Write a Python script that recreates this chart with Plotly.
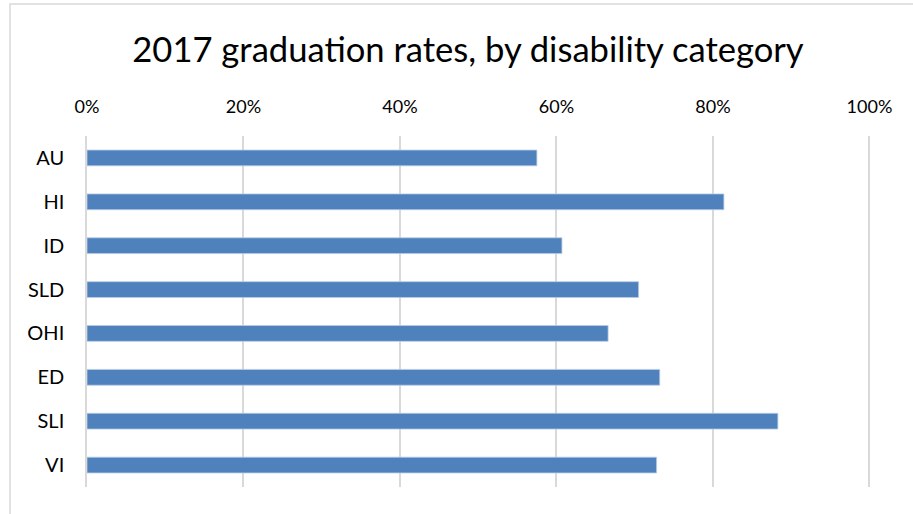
import plotly.graph_objects as go

categories = ["AU", "HI", "ID", "SLD", "OHI", "ED", "SLI", "VI"]
rates = [0.575, 0.814, 0.607, 0.705, 0.666, 0.732, 0.883, 0.728]
tick_vals = [0, 0.2, 0.4, 0.6, 0.8, 1.0]
tick_text = ["0%", "20%", "40%", "60%", "80%", "100%"]

FONT = "Lato"
GRID = "#d9d9d9"

fig = go.Figure(go.Bar(
    x=rates, y=categories, orientation="h",
    marker=dict(color="#4f81bd", line=dict(color="#b9cde5", width=0.8)),
    hoverinfo="x+y",
))

W, H = 913, 514
L, R, T, B = 87, 42, 136, 27
pw, ph = W - L - R, H - T - B

def px_x(x):
    return (x - L) / pw

def px_y(y):
    return (H - B - y) / ph

fig.update_layout(
    width=W, height=H,
    margin=dict(l=L, r=R, t=T, b=B, autoexpand=False),
    paper_bgcolor="white", plot_bgcolor="white",
    showlegend=False,
    bargap=0.64,
    title=dict(text="2017 graduation rates, by disability category",
               x=468 / W, xanchor="center", y=1 - 50 / H, yanchor="middle",
               font=dict(family=FONT, size=34.6, color="#000000")),
    font=dict(family=FONT, color="#000000"),
    xaxis=dict(side="top", range=[0, 1.002], tickvals=tick_vals, ticktext=tick_text,
               showgrid=True, gridcolor=GRID, gridwidth=1.5, zeroline=False,
               showline=False, ticks="", ticklabelstandoff=18, automargin=False,
               tickfont=dict(family=FONT, size=18, color="#000000")),
    yaxis=dict(autorange="reversed", showgrid=False, zeroline=False,
               showline=True, linecolor=GRID, linewidth=1.5,
               ticks="", ticklabelstandoff=17, automargin=False,
               tickfont=dict(family=FONT, size=20, color="#000000")),
    shapes=[dict(type="rect", xref="paper", yref="paper",
                 x0=px_x(10), x1=px_x(930), y0=px_y(540), y1=px_y(4),
                 line=dict(color=GRID, width=1.5), fillcolor="rgba(0,0,0,0)",
                 layer="below")],
)

fig.write_html("out.html",
               config={"displayModeBar": False},
               post_script="document.body.style.margin='0';document.body.style.overflow='hidden';")
